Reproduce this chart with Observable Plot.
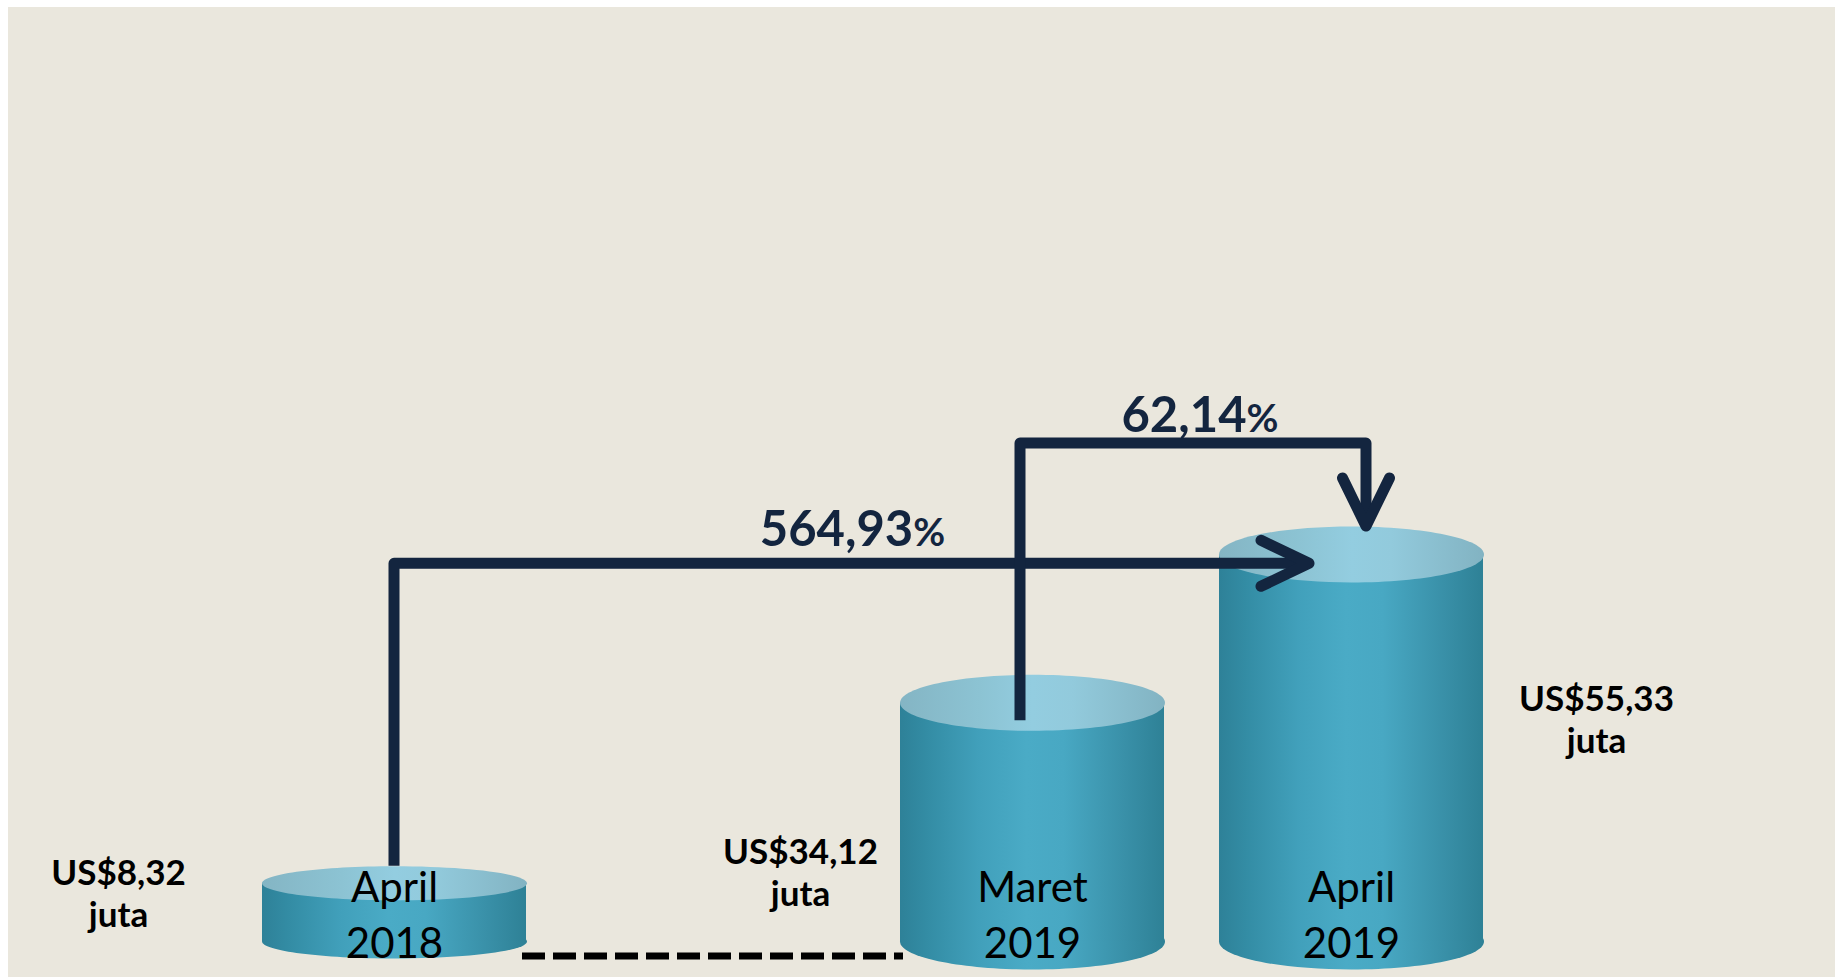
<!DOCTYPE html>
<html>
<head>
<meta charset="utf-8">
<script src="https://cdn.jsdelivr.net/npm/d3@7"></script>
<script src="https://cdn.jsdelivr.net/npm/@observablehq/plot@0.6"></script>
<style>
  html, body { margin: 0; padding: 0; background: #ffffff; }
  #bg { position: absolute; left: 8px; top: 7px; width: 1827px; height: 970px; background: #eae7dd; }
  #chart { position: absolute; left: 0; top: 0; }
  #chart svg { max-width: none; }
</style>
</head>
<body>
<div id="bg"></div>
<div id="chart"></div>
<script>
// ---- data ----
const periods = ["April 2018", "Maret 2019", "April 2019"];
const periodLabels = ["April\n2018", "Maret\n2019", "April\n2019"];
const values = [8.32, 34.12, 55.33];
const valueLabels = ["US$8,32\njuta", "US$34,12\njuta", "US$55,33\njuta"];
const growthLabels = ["564,93", "62,14"];
const growthFrom = ["April 2018", "Maret 2019"];
const growthTo = ["April 2019", "April 2019"];

const data = periods.map((p, i) => ({period: p, label: periodLabels[i], value: values[i], valueLabel: valueLabels[i]}));

// ---- layout / style ----
const W = 1835, H = 977;
const GAP = " ";
const xDomain = [periods[0], GAP, periods[1], periods[2]];
const xRange = [260.8, 1484.6];
const padIn = 0.171;
const step = (xRange[1] - xRange[0]) / (xDomain.length - padIn);
const BW = step * (1 - padIn);
const RX = BW / 2;
const yDomain = [0, 60];
const yRange = [941, 941 - 60 * 6.994];
const NAVY = "#13253f";
const FONT = "Lato, 'Open Sans', sans-serif";
const ryFor = p => (p === periods[0] ? 17 : 28);

function ellipse(rx, ry) {
  const k = 0.5522847498;
  return {
    draw(ctx) {
      ctx.moveTo(-rx, 0);
      ctx.bezierCurveTo(-rx, -ry * k, -rx * k, -ry, 0, -ry);
      ctx.bezierCurveTo(rx * k, -ry, rx, -ry * k, rx, 0);
      ctx.bezierCurveTo(rx, ry * k, rx * k, ry, 0, ry);
      ctx.bezierCurveTo(-rx * k, ry, -rx, ry * k, -rx, 0);
      ctx.closePath();
    }
  };
}

const small = d => d.period === periods[0];
const big = d => d.period !== periods[0];

function ends(filter, ry, yAcc, fill) {
  return Plot.dot(data, {filter, x: "period", y: yAcc, r: 10, symbol: ellipse(RX, ry), fill, stroke: "none"});
}

const valueLabelOffset = [[-276, -15], [-232, -36], [245, -189]];

const valueMarks = data.map((d, i) => Plot.text([d], {
  x: "period", y: () => 0, text: "valueLabel",
  dx: valueLabelOffset[i][0], dy: valueLabelOffset[i][1],
  lineAnchor: "bottom", lineHeight: 1.2,
  fontSize: 35, fontWeight: "bold", fontFamily: FONT, fill: "#000"
}));

function center(sx, p) {
  const bw = typeof sx.bandwidth === "function" ? sx.bandwidth() : BW;
  return sx(p) + bw / 2;
}

// dashed connector between first two cylinders
function dashMark(index, scales) {
  const sx = scales.x, sy = scales.y;
  const bw = typeof sx.bandwidth === "function" ? sx.bandwidth() : BW;
  const g = d3.create("svg:g");
  g.append("line")
    .attr("x1", sx(periods[0]) + bw - 4)
    .attr("x2", sx(periods[1]) + 3)
    .attr("y1", sy(0) + 15).attr("y2", sy(0) + 15)
    .attr("stroke", "#000").attr("stroke-width", 7)
    .attr("stroke-dasharray", "23 8");
  return g.node();
}

// growth arrows with percentage labels
const arrowLevels = [54, 71.2];
function arrowMark(index, scales) {
  const sx = scales.x, sy = scales.y;
  const g = d3.create("svg:g").attr("fill", "none").attr("stroke", NAVY);
  const valOf = p => values[periods.indexOf(p)];
  // arrow 1: from top of first cylinder, across to the top of the last
  {
    const x0 = center(sx, growthFrom[0]);
    const y0 = sy(valOf(growthFrom[0])) - ryFor(growthFrom[0]);
    const yl = sy(arrowLevels[0]);
    const tx = center(sx, growthTo[0]) - 42;
    g.append("path").attr("d", `M${x0},${y0}V${yl}H${tx - 5}`)
      .attr("stroke-width", 11).attr("stroke-linejoin", "round");
    g.append("path").attr("d", `M${tx - 48},${yl - 23}L${tx},${yl}L${tx - 48},${yl + 23}`)
      .attr("stroke-width", 11).attr("stroke-linecap", "round").attr("stroke-linejoin", "round");
    const t = g.append("text").attr("x", (x0 + tx) / 2 + 1).attr("y", yl - 17)
      .attr("text-anchor", "middle").attr("fill", NAVY).attr("stroke", "none")
      .attr("font-family", FONT).attr("font-weight", "bold");
    t.append("tspan").attr("font-size", 49).text(growthLabels[0]);
    t.append("tspan").attr("font-size", 39).text("%");
  }
  // arrow 2: from middle cylinder, up and over, down onto the last
  {
    const x0 = center(sx, growthFrom[1]) - 12;
    const y0 = sy(valOf(growthFrom[1])) + 18;
    const yl = sy(arrowLevels[1]);
    const tx = center(sx, growthTo[1]) + 15;
    const ty = sy(valOf(growthTo[1])) - ryFor(growthTo[1]);
    g.append("path").attr("d", `M${x0},${y0}V${yl}H${tx}V${ty - 5}`)
      .attr("stroke-width", 11).attr("stroke-linejoin", "round");
    g.append("path").attr("d", `M${tx - 23.5},${ty - 48}L${tx},${ty}L${tx + 23.5},${ty - 48}`)
      .attr("stroke-width", 11).attr("stroke-linecap", "round").attr("stroke-linejoin", "round");
    const t = g.append("text").attr("x", (x0 + tx) / 2 + 7).attr("y", yl - 11)
      .attr("text-anchor", "middle").attr("fill", NAVY).attr("stroke", "none")
      .attr("font-family", FONT).attr("font-weight", "bold");
    t.append("tspan").attr("font-size", 49).text(growthLabels[1]);
    t.append("tspan").attr("font-size", 39).text("%");
  }
  return g.node();
}

try {
  const chart = Plot.plot({
    width: W,
    height: H,
    margin: 0,
    style: {background: "transparent", overflow: "visible", fontFamily: FONT},
    x: {domain: xDomain, range: xRange, paddingInner: padIn, paddingOuter: 0, align: 0.5, axis: null},
    y: {domain: yDomain, range: yRange, axis: null},
    marks: [
      ends(small, 17, () => 0, "url(#cylBody)"),
      ends(big, 28, () => 0, "url(#cylBody)"),
      Plot.barY(data, {x: "period", y: "value", fill: "url(#cylBody)"}),
      ends(small, 17, "value", "url(#cylTop)"),
      ends(big, 28, "value", "url(#cylTop)"),
      dashMark,
      Plot.text(data, {
        x: "period", y: () => 0, text: "label", dy: 16,
        lineAnchor: "bottom", lineHeight: 1.31,
        fontSize: 42, fontFamily: FONT, fill: "#000"
      }),
      ...valueMarks,
      arrowMark
    ]
  });

  const svg = d3.select(chart);
  const defs = svg.insert("defs", ":first-child");
  const body = defs.append("linearGradient").attr("id", "cylBody").attr("x1", 0).attr("x2", 1).attr("y1", 0).attr("y2", 0);
  [[0, "#2e8198"], [0.1, "#338ca4"], [0.3, "#41a0bb"], [0.48, "#4aabc6"], [0.62, "#48a8c3"], [0.85, "#3990a8"], [1, "#2e8196"]]
    .forEach(([o, c]) => body.append("stop").attr("offset", o).attr("stop-color", c));
  const top = defs.append("linearGradient").attr("id", "cylTop").attr("x1", 0).attr("x2", 1).attr("y1", 0).attr("y2", 0);
  [[0, "#84b5c4"], [0.3, "#8cc3d3"], [0.5, "#93cde0"], [0.65, "#92cadc"], [1, "#82b3c2"]]
    .forEach(([o, c]) => top.append("stop").attr("offset", o).attr("stop-color", c));

  document.getElementById("chart").appendChild(chart);
} catch (e) {
  document.body.insertAdjacentHTML("beforeend", `<pre style="position:absolute;top:0;left:0;color:red">${e && e.stack || e}</pre>`);
}
</script>
</body>
</html>
